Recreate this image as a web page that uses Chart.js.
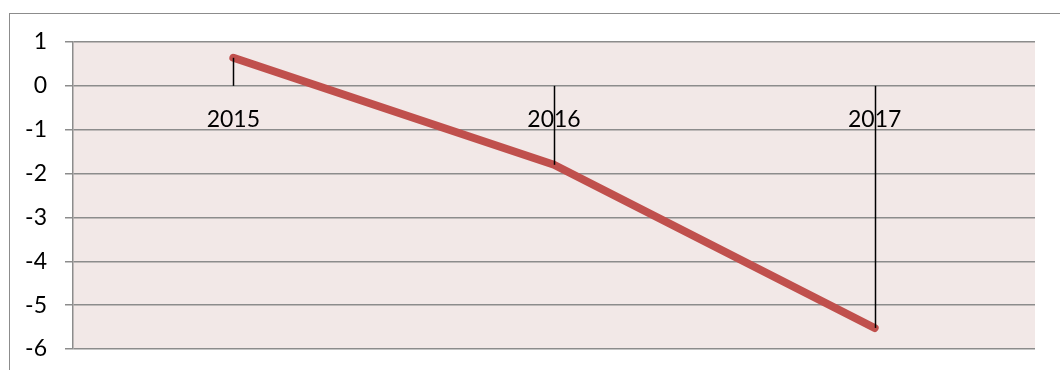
<!DOCTYPE html>
<html lang="en">
<head>
    <meta charset="UTF-8">
    <title>Line chart 2015-2017</title>
    <script src="https://cdn.jsdelivr.net/npm/chart.js"></script>
    <style>
        html, body { margin: 0; background: #fff; overflow: hidden; }
        #frame {
            position: absolute;
            left: 9px;
            top: 13px;
            width: 1100px;
            height: 400px;
            border: 1px solid #8c8c8c;
        }
        #wrap {
            position: absolute;
            left: 0;
            top: 0;
            width: 1060px;
            height: 370px;
        }
    </style>
</head>
<body>
    <div id="frame"></div>
    <div id="wrap"><canvas id="chart" width="1060" height="370"></canvas></div>
    <script>
        var years = ['2015', '2016', '2017'];
        var values = [0.64, -1.8, -5.52];
        var yTicks = [1, 0, -1, -2, -3, -4, -5, -6];

        // pink plot background
        var plotBackground = {
            id: 'plotBackground',
            beforeDraw: function(chart) {
                var a = chart.chartArea, ctx = chart.ctx;
                ctx.save();
                ctx.fillStyle = '#f2e8e7';
                ctx.fillRect(a.left, a.top, a.right - a.left, a.bottom - a.top);
                ctx.restore();
            }
        };

        // black drop lines from each point to the zero line
        var dropLines = {
            id: 'dropLines',
            afterDatasetsDraw: function(chart) {
                var ctx = chart.ctx;
                var x = chart.scales.x, y = chart.scales.y;
                ctx.save();
                ctx.strokeStyle = '#000';
                ctx.lineWidth = 1.5;
                values.forEach(function(v, i) {
                    var px = Math.round(x.getPixelForValue(i)) + 0.5;
                    ctx.beginPath();
                    ctx.moveTo(px, y.getPixelForValue(v));
                    ctx.lineTo(px, y.getPixelForValue(0));
                    ctx.stroke();
                });
                ctx.restore();
            }
        };

        var ctx = document.getElementById('chart').getContext('2d');
        var chart = new Chart(ctx, {
            type: 'line',
            data: {
                labels: years,
                datasets: [{
                    data: values,
                    borderColor: '#c0504d',
                    backgroundColor: '#c0504d',
                    borderWidth: 8,
                    borderCapStyle: 'round',
                    borderJoinStyle: 'round',
                    pointRadius: 0,
                    tension: 0,
                    fill: false
                }]
            },
            options: {
                responsive: false,
                animation: false,
                layout: { padding: { left: 0, right: 25, top: 42, bottom: 21 } },
                plugins: {
                    legend: { display: false },
                    tooltip: { enabled: false }
                },
                scales: {
                    x: {
                        position: { y: 0 },
                        offset: true,
                        grid: { display: false },
                        border: { display: false },
                        ticks: {
                            color: '#000',
                            font: { family: 'Lato', size: 23 },
                            padding: 12,
                            maxRotation: 0
                        }
                    },
                    y: {
                        min: -6,
                        max: 1,
                        afterBuildTicks: function(axis) {
                            axis.ticks = yTicks.map(function(v) { return { value: v }; });
                        },
                        afterFit: function(axis) {
                            axis.width = 73;
                            axis.paddingTop = 0;
                            axis.paddingBottom = 0;
                        },
                        grid: {
                            color: '#8c8c8c',
                            lineWidth: 1.5,
                            tickLength: 8
                        },
                        border: { display: true, color: '#8c8c8c', width: 1.5 },
                        ticks: {
                            color: '#000',
                            font: { family: 'Lato', size: 23 },
                            padding: 18
                        }
                    }
                }
            },
            plugins: [plotBackground, dropLines]
        });
    </script>
</body>
</html>
